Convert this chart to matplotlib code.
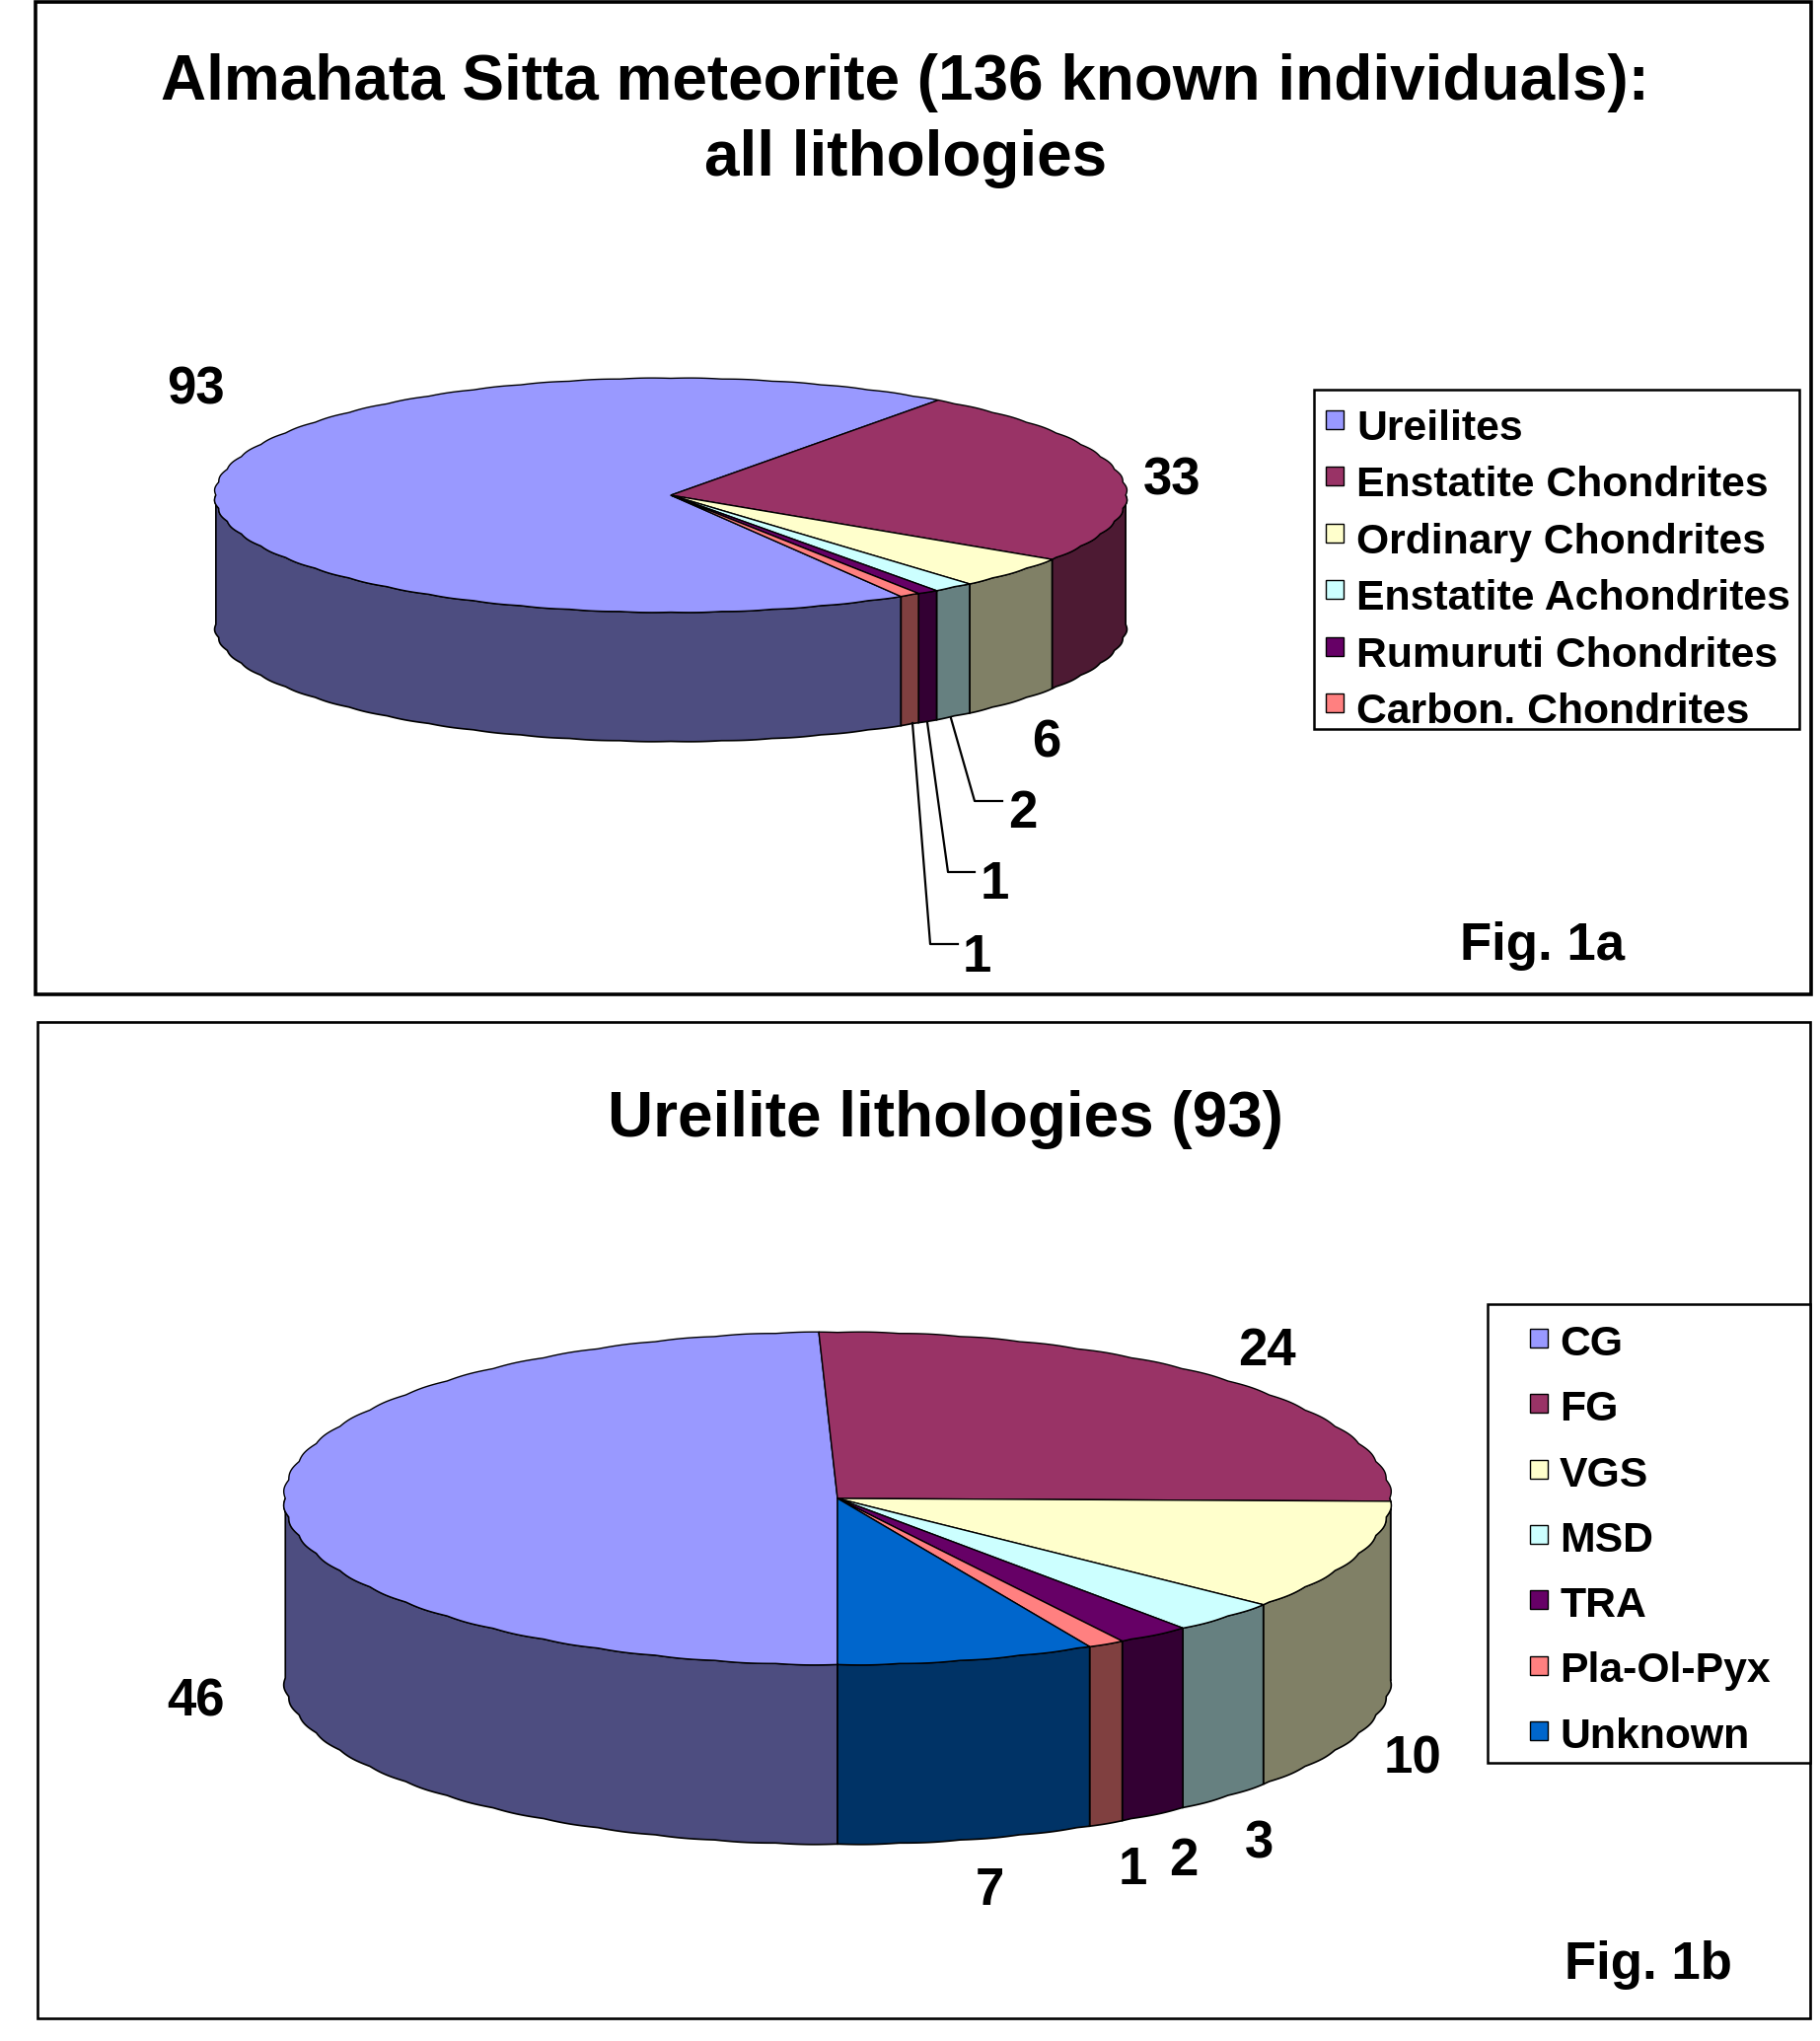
import numpy as np
import matplotlib
matplotlib.use("Agg")
import matplotlib.pyplot as plt
from matplotlib.patches import Polygon, Rectangle

plt.rcParams['font.family'] = ['Liberation Sans', 'DejaVu Sans']
plt.rcParams['font.weight'] = 'bold'

# Fig. 1a data
labels_a = ['Ureilites', 'Enstatite Chondrites', 'Ordinary Chondrites',
            'Enstatite Achondrites', 'Rumuruti Chondrites', 'Carbon. Chondrites']
values_a = [93, 33, 6, 2, 1, 1]

# Fig. 1b data
labels_b = ['CG', 'FG', 'VGS', 'MSD', 'TRA', 'Pla-Ol-Pyx', 'Unknown']
values_b = [46, 24, 10, 3, 2, 1, 7]

colors = ['#9999FF', '#993366', '#FFFFCC', '#CCFFFF', '#660066', '#FF8080', '#0066CC']

LEGEND_SIZE = 30.8
VALUE_SIZE = 38


def darker(color):
    r, g, b = matplotlib.colors.to_rgb(color)
    return (r * 0.5, g * 0.5, b * 0.5)


def rim(t, cx, cy, rx, ry):
    # the original has a slightly scalloped edge
    scale = 1 + 0.004 * (np.abs(np.sin(t * 28)) - 1)
    return cx + rx * scale * np.cos(t), cy - ry * scale * np.sin(t)


def pie_3d(ax, values, start, cx, cy, rx, ry, depth):
    """Draw a tilted pie, slices running clockwise from the start angle."""
    total = sum(values)
    edges = start - np.cumsum([0] + values) * 360.0 / total
    # side walls first, only the front half of the disc shows
    for i, val in enumerate(values):
        hi, lo = edges[i], edges[i + 1]
        for k in (-720, -360, 0, 360):
            a = max(lo + k, 180)
            b = min(hi + k, 360)
            if b <= a:
                continue
            t = np.radians(np.linspace(a, b, 600))
            x, y = rim(t, cx, cy, rx, ry)
            pts = np.r_[np.c_[x, y], np.c_[x[::-1], y[::-1] + depth]]
            ax.add_patch(Polygon(pts, closed=True, fc=darker(colors[i]), ec='black', lw=1.2, zorder=2))
    # top of the disc
    for i, val in enumerate(values):
        t = np.radians(np.linspace(edges[i], edges[i + 1], 1200))
        x, y = rim(t, cx, cy, rx, ry)
        pts = np.r_[[[cx, cy]], np.c_[x, y]]
        ax.add_patch(Polygon(pts, closed=True, fc=colors[i], ec='black', lw=1.0, zorder=3))


def legend_box(ax, names, x0, y0, x1, y1, sw_x, sw_y, text_x, step, text_dy):
    ax.add_patch(Rectangle((x0, y0), x1 - x0, y1 - y0, fc='white', ec='black', lw=1.8, zorder=4))
    for i, name in enumerate(names):
        y = sw_y + i * step
        ax.add_patch(Rectangle((sw_x, y), 18, 19, fc=colors[i], ec='black', lw=1.0, zorder=5))
        ax.text(text_x, y + 9 + text_dy, name, fontsize=LEGEND_SIZE, va='center', ha='left', zorder=5)


fig = plt.figure(figsize=(18.45, 20.69), dpi=100)
ax = fig.add_axes([0, 0, 1, 1])
ax.set_xlim(0, 1845)
ax.set_ylim(2069, 0)
ax.axis('off')

# panel frames
ax.add_patch(Rectangle((36, 2), 1800, 1006, fc='white', ec='black', lw=2.6, zorder=1))
ax.add_patch(Rectangle((38, 1036), 1797, 1010, fc='white', ec='black', lw=1.9, zorder=1))

ax.text(917, 84, 'Almahata Sitta meteorite (136 known individuals):', fontsize=46, ha='center', va='center')
ax.text(918, 161, 'all lithologies', fontsize=46, ha='center', va='center')
ax.text(958, 1135, 'Ureilite lithologies (93)', fontsize=46, ha='center', va='center')

pie_3d(ax, values_a, 300.3, 680, 502, 463, 119, 131)
pie_3d(ax, values_b, 270.0, 849, 1519, 562, 169, 182)

legend_box(ax, labels_a, 1332, 395, 1824, 739, 1344, 416, 1375, 57.4, 10)
legend_box(ax, labels_b, 1508, 1322, 1835, 1787, 1551, 1347, 1581, 66.3, 7)

# value labels, same order as the data
pos_a = [(198, 395), (1188, 487), (1061, 753), (1037, 825), (1008, 897), (990, 971)]
pos_b = [(198, 1726), (1284, 1370), (1432, 1783), (1276, 1870), (1200, 1887), (1148, 1896), (1003, 1917)]
for val, (x, y) in zip(values_a, pos_a):
    ax.text(x, y, str(val), fontsize=VALUE_SIZE, ha='center', va='center', zorder=6)
for val, (x, y) in zip(values_b, pos_b):
    ax.text(x, y, str(val), fontsize=VALUE_SIZE, ha='center', va='center', zorder=6)

# leader lines for the thin slices in 1a
ax.plot([964, 988, 1016], [728, 812, 812], color='black', lw=1.6, zorder=6)
ax.plot([940, 961, 988], [732, 884, 884], color='black', lw=1.6, zorder=6)
ax.plot([925, 943, 971], [733, 957, 957], color='black', lw=1.6, zorder=6)

ax.text(1563, 959, 'Fig. 1a', fontsize=VALUE_SIZE, ha='center', va='center')
ax.text(1671, 1992, 'Fig. 1b', fontsize=VALUE_SIZE, ha='center', va='center')

fig.savefig('out.png', dpi=100)
